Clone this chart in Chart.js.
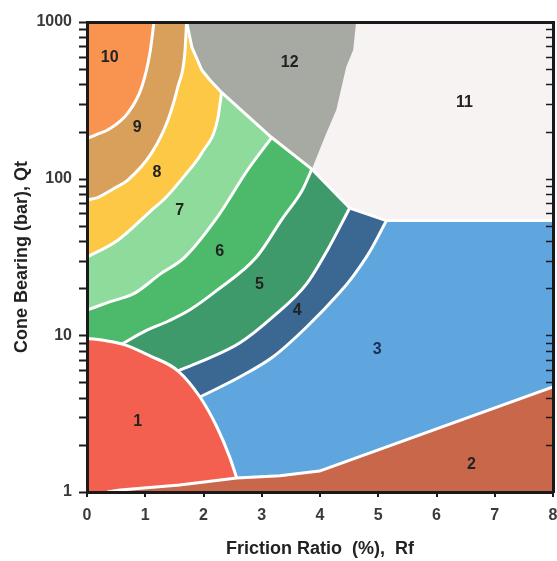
<!DOCTYPE html>
<html><head><meta charset="utf-8">
<script src="https://cdn.jsdelivr.net/npm/chart.js@4.4.0/dist/chart.umd.min.js"></script>
<style>html,body{margin:0;padding:0;background:#fff}#wrap{width:557px;height:561px}</style>
</head><body><div id="wrap"><canvas id="c" width="557" height="561"></canvas></div>
<script>
// ---- Data (Friction ratio Rf %, cone bearing qt bar) ----
const rfTicks = [0,1,2,3,4,5,6,7,8];
const qtLabels = [1,10,100,1000];
const qtDecades = [1,10,100];
const qtMinorSteps = [1,2,3,4,5,6,7,8,9];

// zone boundary curves
const curve10to9 = [[0,180],[0.17,192],[0.36,205],[0.70,262],[0.94,385],[1.08,634],[1.15,1000]];
const curve9to8  = [[0,73],[0.19,76],[0.45,86],[0.70,98],[1.11,146],[1.39,237],[1.56,385],[1.68,634],[1.71,1000]];
const curve8to7  = [[0,31.6],[0.53,40.5],[1.11,63],[1.34,75],[1.68,105],[1.97,146],[2.24,237],[2.31,355]];
const curve7to6  = [[0,14.5],[0.40,16.4],[0.82,18.6],[1.25,24.5],[1.68,31.6],[2.24,57],[2.76,114],[3.17,183]];
const curve6to5  = [[0.60,8.8],[0.99,10.6],[1.39,12.3],[1.76,14.5],[2.24,19.5],[2.91,31.6],[3.36,56],[3.70,85],[3.86,115]];
const curve5to4  = [[1.56,5.94],[1.94,6.76],[2.62,8.93],[3.19,13.1],[3.77,21.3],[4.13,35.1],[4.51,65]];
const curve4to3  = [[1.94,4.04],[2.62,5.42],[3.19,7.27],[3.77,11.3],[4.33,18.6],[4.57,23.9],[4.85,34],[5.14,54]];
const zone1Edge  = [[0,9.6],[0.35,9.2],[0.65,8.7],[1.08,7.4],[1.56,5.94],[1.94,4.04],[2.23,2.6],[2.45,1.67],[2.57,1.23]];
const zone2Edge  = [[0.35,1],[0.57,1.03],[1.59,1.11],[2.57,1.23],[3.31,1.27],[3.99,1.36],[8,4.68]];
const zone12Edge = [[1.71,1000],[1.80,692],[1.97,494],[2.11,426],[2.31,355],[3.17,183],[3.86,115]];
const zone12Right= [[3.86,115],[4.11,196],[4.28,274],[4.45,516],[4.57,662],[4.62,1000]];
const zone11Edge = [[3.86,115],[4.51,65],[5.14,54],[8,54]];
const plotFloor  = [[0,1],[8,1]];

// zone labels
const zoneNames = ['1','2','3','4','5','6','7','8','9','10','11','12'];
const labelRf   = [0.87,6.60,4.98,3.61,2.96,2.28,1.59,1.20,0.86,0.39,6.48,3.48];
const labelQt   = [2.80,1.49,8.06,14.3,21,34,63,109,211,589,308,547];
const zoneColors = ['#f4604f','#c9674b','#5fa6df','#3a6893','#3f9a6b','#4cba6a','#8fdb9c','#fcc846','#d9a05b','#f89450','#f7f3f3','#a7aaa2'];

// ---- build datasets ----
const pts = a => a.map(([x,y]) => ({x, y}));
function zone(data, color, fill, order, smooth){
  return {data: pts(data), backgroundColor: color, borderColor: color, borderWidth: 0,
    fill: fill, pointRadius: 0, pointHoverRadius: 0, tension: 0,
    cubicInterpolationMode: smooth ? 'monotone' : 'default', order: order};
}
function edge(data, smooth){
  return {data: pts(data), borderColor: '#ffffff', borderWidth: 3, fill: false,
    pointRadius: 0, pointHoverRadius: 0, tension: 0,
    cubicInterpolationMode: smooth ? 'monotone' : 'default', order: 1, borderJoinStyle: 'round'};
}
const datasets = [
  zone(plotFloor, zoneColors[2], 'end', 30, false),
  zone([[0,2]].concat(curve4to3), zoneColors[3], 'end', 29, true),
  zone([[0,4]].concat(curve5to4), zoneColors[4], 'end', 28, true),
  zone([[0,6]].concat(curve6to5), zoneColors[5], 'end', 27, true),
  zone(curve7to6, zoneColors[6], 'end', 26, true),
  zone(curve8to7, zoneColors[7], 'end', 25, true),
  zone(curve9to8, zoneColors[8], 'end', 24, true),
  zone(curve10to9, zoneColors[9], 'end', 23, true),
  zone(zone11Edge, zoneColors[10], 'end', 22, false),
  zone(zone12Edge.concat(zone12Right.slice(1)), zoneColors[11], 'end', 21, false),
  zone(zone1Edge, zoneColors[0], 'start', 20, true),
  zone(zone2Edge, zoneColors[1], 'start', 19, false),
  edge(curve10to9, true), edge(curve9to8, true), edge(curve8to7, true), edge(curve7to6, true),
  edge(curve6to5, true), edge(curve5to4, true), edge(curve4to3, true), edge(zone1Edge, true), edge(zone2Edge, false),
  edge(zone12Edge.concat(zone11Edge.slice(1)), false)
];

const FONT = "'Liberation Sans', Arial, Helvetica, sans-serif";
Chart.defaults.font.family = FONT;
const axisColor = '#1a1a1a';

const zoneLabelPlugin = {
  id: 'zoneLabels',
  afterDatasetsDraw(chart){
    const {ctx, scales} = chart;
    ctx.save();
    ctx.font = 'bold 16px ' + FONT;
    ctx.textAlign = 'center';
    ctx.textBaseline = 'middle';
    zoneNames.forEach((t, i) => {
      ctx.fillStyle = t === '3' ? '#1d2c55' : '#222222';
      ctx.fillText(t, scales.x.getPixelForValue(labelRf[i]), scales.y.getPixelForValue(labelQt[i]));
    });
    ctx.restore();
  }
};

// log tick marks (major + minor) on both vertical edges
const logTickMarks = {
  id: 'logTickMarks',
  afterDraw(chart){
    const {ctx, scales, chartArea} = chart;
    const vals = [];
    qtDecades.forEach(d => qtMinorSteps.forEach(m => vals.push(d * m)));
    vals.push(qtLabels[qtLabels.length - 1]);
    ctx.save();
    ctx.strokeStyle = axisColor;
    vals.forEach(v => {
      const py = Math.round(scales.y.getPixelForValue(v)) + 0.5;
      ctx.lineWidth = 2;
      ctx.beginPath(); ctx.moveTo(chartArea.left - 1, py); ctx.lineTo(chartArea.left - 8, py); ctx.stroke();
      ctx.lineWidth = 1.5;
      ctx.beginPath(); ctx.moveTo(chartArea.right, py); ctx.lineTo(chartArea.right - 7, py); ctx.stroke();
    });
    ctx.restore();
  }
};

const tickFont = {family: FONT, size: 16, weight: 'bold'};
const titleFont = {family: FONT, size: 18, weight: 'bold'};
const noSidePad = s => { s.paddingLeft = 0; s.paddingRight = 0; };
const noVertPad = s => { s.paddingTop = 0; s.paddingBottom = 0; };

new Chart(document.getElementById('c'), {
  type: 'line',
  data: {datasets},
  options: {
    responsive: false, animation: false, devicePixelRatio: 1,
    layout: {padding: 0},
    plugins: {legend: {display: false}, tooltip: {enabled: false}},
    scales: {
      x: {
        type: 'linear', position: 'bottom', min: 0, max: 8,
        afterBuildTicks: s => { s.ticks = rfTicks.map(v => ({value: v})); },
        ticks: {font: tickFont, color: '#3a3a3a', padding: 9, maxRotation: 0},
        grid: {drawOnChartArea: false, drawTicks: true, tickLength: 5, color: axisColor, lineWidth: 2},
        border: {display: true, color: axisColor, width: 3, z: 1},
        title: {display: true, text: 'Friction Ratio  (%),  Rf', font: titleFont, color: '#222', padding: {top: 0, bottom: 1}},
        afterFit: s => { s.height = 69; noSidePad(s); }
      },
      x2: {
        type: 'linear', position: 'top', min: 0, max: 8,
        ticks: {display: false},
        grid: {drawOnChartArea: false, drawTicks: false},
        border: {display: true, color: axisColor, width: 3, z: 1},
        afterFit: s => { s.height = 22; noSidePad(s); }
      },
      y: {
        type: 'logarithmic', position: 'left', min: 1, max: 1000,
        ticks: {font: tickFont, color: '#3a3a3a', padding: 15, autoSkip: false,
          callback: v => qtLabels.some(l => Math.abs(v - l) / l < 1e-6) ? String(v) : ''},
        grid: {drawOnChartArea: false, drawTicks: false},
        border: {display: true, color: axisColor, width: 3, z: 1},
        title: {display: true, text: 'Cone Bearing (bar), Qt', font: titleFont, color: '#222', padding: {top: 11, bottom: 0}},
        afterFit: s => { s.width = 87; noVertPad(s); }
      },
      y2: {
        type: 'logarithmic', position: 'right', min: 1, max: 1000,
        ticks: {display: false},
        grid: {drawOnChartArea: false, drawTicks: false},
        border: {display: true, color: axisColor, width: 3, z: 1},
        afterFit: s => { s.width = 4; noVertPad(s); }
      }
    }
  },
  plugins: [zoneLabelPlugin, logTickMarks]
});
</script>
</body></html>
